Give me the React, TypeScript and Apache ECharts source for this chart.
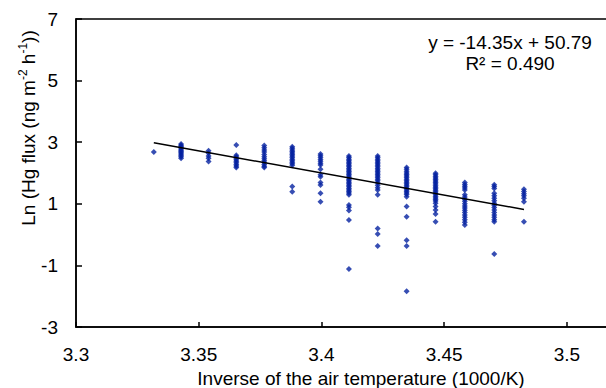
import React, { useEffect, useRef } from "react";
import * as echarts from "echarts";

// x positions (1000/K) of each temperature group
const xValues = [3.3317, 3.3428, 3.354, 3.3653, 3.3767, 3.3881, 3.3996, 3.4112, 3.4229, 3.4347, 3.4465, 3.4584, 3.4704, 3.4825];

// Ln(Hg flux) values per group
const c27 = [2.68];
const c26 = [2.94, 2.9, 2.86, 2.82, 2.78, 2.74, 2.7, 2.66, 2.62, 2.58, 2.53, 2.48];
const c25 = [2.72, 2.64, 2.55, 2.48, 2.37];
const c24 = [2.91, 2.58, 2.53, 2.48, 2.43, 2.38, 2.33, 2.28, 2.23, 2.18];
const c23 = [2.89, 2.82, 2.75, 2.68, 2.6, 2.53, 2.46, 2.4, 2.34, 2.28, 2.22, 2.18];
const c22 = [2.85, 2.8, 2.75, 2.7, 2.65, 2.6, 2.55, 2.5, 2.45, 2.4, 2.35, 2.3, 2.25, 1.56, 1.39];
const c21 = [2.62, 2.56, 2.5, 2.44, 2.38, 2.32, 2.26, 2.12, 1.94, 1.88, 1.69, 1.61, 1.34, 1.07];
const c20 = [2.55, 2.5, 2.45, 2.4, 2.35, 2.3, 2.25, 2.2, 2.15, 2.1, 2.05, 2.0, 1.95, 1.9, 1.85, 1.8, 1.75, 1.7, 1.65, 1.6, 1.55, 1.5, 1.45, 1.4, 1.35, 1.29, 0.96, 0.89, 0.78, 0.47, -1.12];
const c19 = [2.55, 2.5, 2.45, 2.4, 2.35, 2.3, 2.25, 2.2, 2.15, 2.1, 2.05, 2.0, 1.95, 1.9, 1.85, 1.8, 1.75, 1.68, 1.6, 1.52, 1.45, 1.29, 0.2, 0.02, -0.37];
const c18 = [2.18, 2.12, 2.06, 2.0, 1.95, 1.9, 1.85, 1.8, 1.75, 1.7, 1.65, 1.6, 1.55, 1.5, 1.45, 1.4, 1.35, 1.3, 1.23, 0.91, 0.58, -0.18, -0.37, -1.84];
const c17 = [1.99, 1.94, 1.89, 1.84, 1.79, 1.74, 1.69, 1.64, 1.59, 1.54, 1.49, 1.44, 1.39, 1.34, 1.29, 1.24, 1.19, 1.14, 1.09, 1.02, 0.91, 0.8, 0.67, 0.42];
const c16 = [1.69, 1.63, 1.57, 1.51, 1.45, 1.29, 1.22, 1.15, 1.08, 1.0, 0.93, 0.86, 0.79, 0.72, 0.64, 0.56, 0.48, 0.4, 0.31];
const c15 = [1.62, 1.56, 1.5, 1.34, 1.26, 1.18, 1.1, 1.02, 0.95, 0.88, 0.8, 0.72, 0.64, 0.56, 0.48, 0.42, -0.63];
const c14 = [1.47, 1.4, 1.33, 1.26, 1.18, 1.07, 0.42];

const groups = [c27, c26, c25, c24, c23, c22, c21, c20, c19, c18, c17, c16, c15, c14];

// Regression line
const slope = -14.35;
const intercept = 50.79;
const equationText = "y = -14.35x + 50.79";
const r2Text = "R² = 0.490";

const xTicks = { min: 3.3, max: 3.52, interval: 0.05 };
const yTicks = { min: -3, max: 7, interval: 2 };

const FONT = "'Liberation Sans', Arial, sans-serif";

export default function App() {
  const ref = useRef<HTMLDivElement>(null);

  useEffect(() => {
    if (!ref.current) return;
    const chart = echarts.init(ref.current, undefined, { renderer: "svg" });

    const points: number[][] = [];
    groups.forEach((g, i) => g.forEach((y) => points.push([xValues[i], y])));
    const xMin = Math.min(...xValues);
    const xMax = Math.max(...xValues);
    const trend = [
      [xMin, slope * xMin + intercept],
      [xMax, slope * xMax + intercept],
    ];

    chart.setOption({
      animation: false,
      backgroundColor: "#fff",
      grid: {
        left: 76,
        top: 19,
        width: 540,
        height: 308,
        show: true,
        borderColor: "#000",
        borderWidth: 1.5,
        backgroundColor: "transparent",
        containLabel: false,
        outerBoundsMode: "none",
      },
      xAxis: {
        type: "value",
        min: xTicks.min,
        max: xTicks.max,
        interval: xTicks.interval,
        splitLine: { show: false },
        axisLine: { show: true, onZero: false, lineStyle: { color: "#000", width: 1.5 } },
        axisTick: { show: true, inside: true, length: 5, lineStyle: { color: "#000", width: 1.5 } },
        axisLabel: {
          show: true,
          margin: 18,
          fontSize: 19,
          fontFamily: FONT,
          color: "#000",
          showMaxLabel: false,
          formatter: (v: number) => String(Math.round(v * 100) / 100),
        },
      },
      yAxis: {
        type: "value",
        min: yTicks.min,
        max: yTicks.max,
        interval: yTicks.interval,
        splitLine: { show: false },
        axisLine: { show: true, onZero: false, lineStyle: { color: "#000", width: 1.5 } },
        axisTick: { show: true, inside: true, length: 6, lineStyle: { color: "#000", width: 1.5 } },
        axisLabel: { margin: 18, fontSize: 19, fontFamily: FONT, color: "#000" },
      },
      series: [
        {
          type: "scatter",
          data: points,
          symbol: "diamond",
          symbolSize: 6,
          itemStyle: { color: "#0522a0" },
          z: 2,
        },
        {
          type: "line",
          data: trend,
          symbol: "none",
          lineStyle: { color: "#000", width: 1.5 },
          z: 3,
        },
      ],
      graphic: [
        {
          type: "text",
          x: 510,
          y: 42,
          style: {
            text: equationText,
            fontSize: 19,
            fontFamily: FONT,
            fill: "#000",
            align: "center",
            verticalAlign: "middle",
          },
        },
        {
          type: "text",
          x: 510,
          y: 63,
          style: {
            text: r2Text,
            fontSize: 19,
            fontFamily: FONT,
            fill: "#000",
            align: "center",
            verticalAlign: "middle",
          },
        },
        {
          type: "text",
          x: 361,
          y: 378,
          style: {
            text: "Inverse of the air temperature (1000/K)",
            fontSize: 19,
            fontFamily: FONT,
            fill: "#000",
            align: "center",
            verticalAlign: "middle",
          },
        },
        {
          type: "text",
          x: 28,
          y: 128,
          rotation: Math.PI / 2,
          style: {
            text: "{n|Ln (Hg flux (ng m}{s|-2}{n| h}{s|-1}{n|))}",
            align: "center",
            verticalAlign: "middle",
            fill: "#000",
            rich: {
              n: { fontSize: 19, fontFamily: FONT, lineHeight: 22, fill: "#000" },
              s: { fontSize: 12, fontFamily: FONT, verticalAlign: "top", lineHeight: 14, fill: "#000" },
            },
          },
        },
      ],
    });

    return () => chart.dispose();
  }, []);

  return <div ref={ref} style={{ width: 606, height: 388, position: "absolute", left: 0, top: 0 }} />;
}
